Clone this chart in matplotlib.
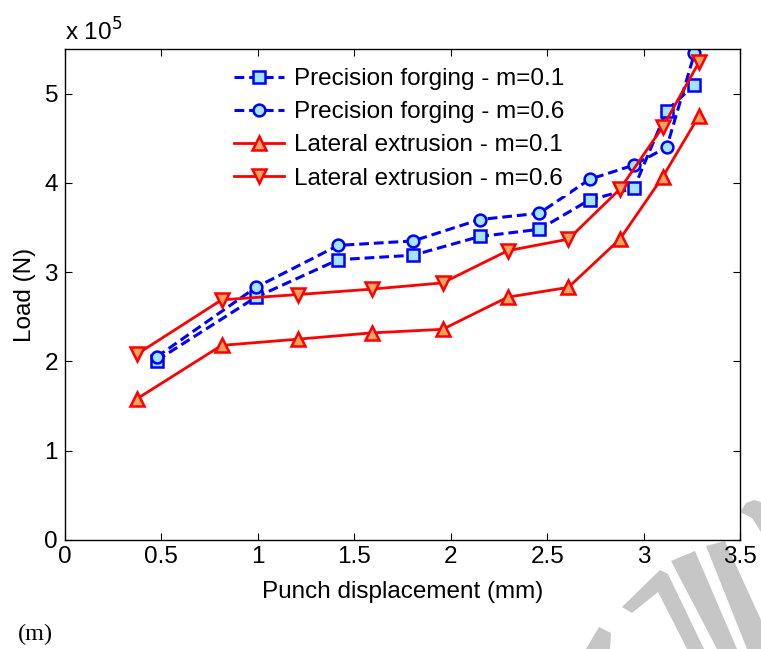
import matplotlib
matplotlib.use("Agg")
import matplotlib.pyplot as plt
from matplotlib.patches import Polygon

plt.rcParams['font.family'] = ['Liberation Sans', 'DejaVu Sans']

# Data (load in units of 1e5 N)
x_pf = [0.475, 0.99, 1.417, 1.805, 2.151, 2.459, 2.72, 2.95, 3.12, 3.264]
y_pf_01 = [2.01, 2.72, 3.14, 3.19, 3.40, 3.48, 3.81, 3.94, 4.81, 5.10]
y_pf_06 = [2.05, 2.83, 3.30, 3.35, 3.59, 3.66, 4.04, 4.20, 4.40, 5.45]
x_le = [0.372, 0.812, 1.21, 1.59, 1.958, 2.295, 2.61, 2.877, 3.10, 3.287]
y_le_01 = [1.58, 2.18, 2.25, 2.32, 2.36, 2.72, 2.83, 3.37, 4.07, 4.75]
y_le_06 = [2.08, 2.69, 2.75, 2.81, 2.88, 3.24, 3.37, 3.93, 4.63, 5.35]
labels = ["Precision forging - m=0.1", "Precision forging - m=0.6",
          "Lateral extrusion - m=0.1", "Lateral extrusion - m=0.6"]
xticks = [0, 0.5, 1, 1.5, 2, 2.5, 3, 3.5]
xticklabels = ["0", "0.5", "1", "1.5", "2", "2.5", "3", "3.5"]
yticks = [0, 1, 2, 3, 4, 5]

W, H = 761, 649
fig = plt.figure(figsize=(W/100, H/100), dpi=100)
ax = fig.add_axes([65/W, 1-540/H, (740-65)/W, (540-49)/H])

blue = (0, 0, 1)
red = (1, 0, 0)
cyan_face = '#a3e4ff'
orange_face = '#f7a25e'
ms = 8.5
ax.plot(x_pf, y_pf_01, '--', color=blue, lw=2.2, marker='s', ms=ms,
        mfc=cyan_face, mec=blue, mew=1.8, label=labels[0], dashes=(3.2, 1.6))
ax.plot(x_pf, y_pf_06, '--', color=blue, lw=2.2, marker='o', ms=ms,
        mfc=cyan_face, mec=blue, mew=1.8, label=labels[1], dashes=(3.2, 1.6))
ax.plot(x_le, y_le_01, '-', color=red, lw=2.0, marker='^', ms=ms+1,
        mfc=orange_face, mec=red, mew=1.8, label=labels[2])
ax.plot(x_le, y_le_06, '-', color=red, lw=2.0, marker='v', ms=ms+1,
        mfc=orange_face, mec=red, mew=1.8, label=labels[3])

ax.set_xlim(0, 3.5)
ax.set_ylim(0, 5.5)
ax.set_xticks(xticks)
ax.set_xticklabels(xticklabels)
ax.set_yticks(yticks)
fs = 17.5
ax.tick_params(axis='both', direction='in', length=5, width=0.8, top=True,
               right=True, labelsize=fs, colors='black')
ax.tick_params(axis='x', pad=4)
ax.tick_params(axis='y', pad=5)
for s in ax.spines.values():
    s.set_linewidth(1.0)

ax.set_xlabel("Punch displacement (mm)", fontsize=fs, labelpad=10)
ax.set_ylabel("Load (N)", fontsize=fs, labelpad=6)

fig.text(65/W, 1-41/H, r"x 10$^5$", fontsize=fs, ha='left', va='baseline')

leg = ax.legend(loc='upper left', bbox_to_anchor=(228/W, 1-62/H),
                bbox_transform=fig.transFigure, fontsize=fs, frameon=True,
                handlelength=2.05, handletextpad=0.4, labelspacing=0.46,
                borderpad=0.25, borderaxespad=0)
leg.get_frame().set_facecolor('white')
leg.get_frame().set_edgecolor('none')
leg.get_frame().set_alpha(1)

fig.text(18/W, 1-640/H, "(m)", fontsize=17.5, fontfamily='Liberation Serif',
         ha='left', va='baseline')

# watermark strokes (light grey)
grey = '#c6c6c6'
polys = [
    [(706, 546), (725, 541), (761, 620), (761, 649), (747, 649)],
    [(671, 561), (695, 551), (737, 649), (717, 649)],
    [(622, 607), (660, 570), (668, 574), (704, 649), (687, 649), (658, 592), (632, 613)],
    [(599, 627), (611, 633), (610, 649), (586, 649)],
    [(740, 512), (746, 503), (754, 500), (761, 502), (761, 532), (752, 518)],
]
for p in polys:
    fig.patches.append(Polygon([(x/W, 1-y/H) for x, y in p], closed=True,
                               transform=fig.transFigure, facecolor=grey,
                               edgecolor='none', zorder=-1))

fig.savefig("out.png", dpi=100)
